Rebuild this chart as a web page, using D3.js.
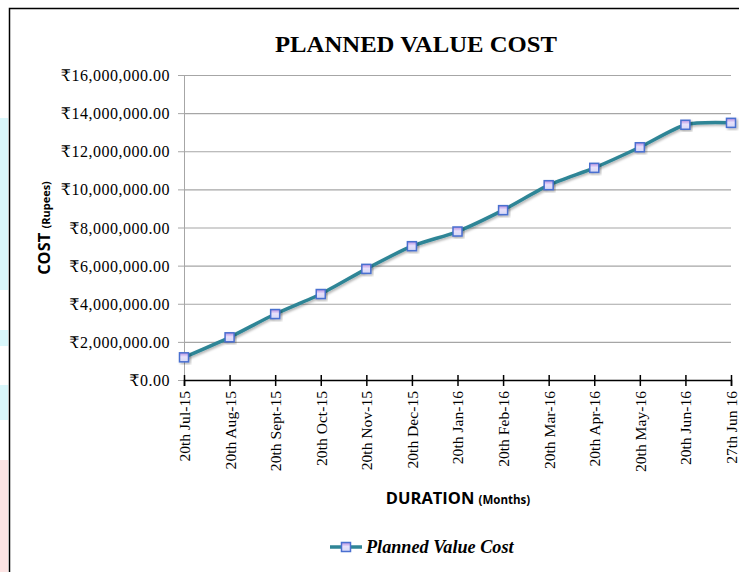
<!DOCTYPE html>
<html><head><meta charset="utf-8">
<script src="https://cdn.jsdelivr.net/npm/d3@7"></script>
<style>body{margin:0;background:#fff}svg{display:block}</style>
</head><body>
<svg id="c" width="739" height="572"></svg>
<script>
const categories = ["20th Jul-15","20th Aug-15","20th Sept-15","20th Oct-15","20th Nov-15","20th Dec-15","20th Jan-16","20th Feb-16","20th Mar-16","20th Apr-16","20th May-16","20th Jun-16","27th Jun 16"];
const plannedValueCost = [1190000,2240000,3460000,4510000,5830000,7020000,7790000,8910000,10220000,11130000,12210000,13390000,13490000];
const yTicks = [0,2000000,4000000,6000000,8000000,10000000,12000000,14000000,16000000];
const seriesName = "Planned Value Cost";

const svg = d3.select("#c");
const serif = "'Liberation Serif','DejaVu Serif',serif";
const sans = "'Open Sans','Noto Sans','DejaVu Sans',sans-serif";

// background patches outside frame
svg.append("rect").attr("x",0).attr("y",118).attr("width",8).attr("height",172).attr("fill","#d9f7fb");
svg.append("rect").attr("x",0).attr("y",330).attr("width",8).attr("height",16).attr("fill","#d9f7fb");
svg.append("rect").attr("x",0).attr("y",385).attr("width",8).attr("height",35).attr("fill","#d9f7fb");
svg.append("rect").attr("x",0).attr("y",460).attr("width",8).attr("height",112).attr("fill","#fde4e4");
// frame
svg.append("path").attr("d","M9.5,572 V8.5 H739").attr("fill","none").attr("stroke","#000").attr("stroke-width",1.5);

const x0 = 184, x1 = 731, yTop = 75, yBot = 380;
const x = d3.scalePoint().domain(categories).range([x0,x1]);
const y = d3.scaleLinear().domain([0,16000000]).range([yBot,yTop]);

// title
svg.append("text").attr("x",416).attr("y",52).attr("text-anchor","middle")
  .attr("font-family",serif).attr("font-weight","bold").attr("font-size",24)
  .attr("textLength",282).attr("lengthAdjust","spacingAndGlyphs")
  .text("PLANNED VALUE COST");

// gridlines
svg.append("g").selectAll("line").data(yTicks.filter(d=>d>0)).join("line")
  .attr("x1",x0).attr("x2",x1).attr("y1",d=>y(d)+0.5).attr("y2",d=>y(d)+0.5)
  .attr("stroke","#a6a6a6").attr("stroke-width",1.2);

// y axis
const fmt = d=>"₹"+d3.format(",.2f")(d);
const ya = svg.append("g").attr("transform",`translate(${x0},0)`)
  .call(d3.axisLeft(y).tickValues(yTicks).tickFormat(fmt).tickSize(6).tickPadding(8));
ya.select(".domain").attr("stroke","#a6a6a6");
ya.selectAll(".tick line").attr("stroke","#a6a6a6");
ya.selectAll(".tick text").attr("font-family",serif).attr("font-size",16).attr("letter-spacing",0.5)
  .attr("fill","#000").attr("dy","0.35em");

// x axis
const xa = svg.append("g").attr("transform",`translate(0,${yBot})`)
  .call(d3.axisBottom(x).tickSize(6).tickPadding(6));
xa.select(".domain").attr("stroke","#000").attr("stroke-width",1.5);
xa.selectAll(".tick line").attr("y1",-5).attr("y2",6).attr("stroke","#000").attr("stroke-width",1.5);
xa.selectAll(".tick text").attr("font-family",serif).attr("font-size",15.6).attr("fill","#000")
  .attr("transform","rotate(-90)").attr("text-anchor","end").attr("x",-11).attr("y",0).attr("dy","0.35em");

// axis titles
const yt = svg.append("text").attr("transform","translate(50,228) rotate(-90)").attr("text-anchor","middle")
  .attr("font-family",sans).attr("font-weight","bold").attr("fill","#000");
yt.append("tspan").attr("font-size",16.4).text("COST ");
yt.append("tspan").attr("font-size",11).text("(Rupees)");
const xt = svg.append("text").attr("x",458).attr("y",504).attr("text-anchor","middle")
  .attr("font-family",sans).attr("font-weight","bold").attr("fill","#000");
xt.append("tspan").attr("font-size",16.5).text("DURATION ");
xt.append("tspan").attr("font-size",11.5).text("(Months)");

// gradient for markers
const defs = svg.append("defs");
const g = defs.append("linearGradient").attr("id","mk").attr("x1",0).attr("y1",0).attr("x2",0).attr("y2",1);
g.append("stop").attr("offset","0%").attr("stop-color","#b48ce0");
g.append("stop").attr("offset","45%").attr("stop-color","#e8e0fb");
g.append("stop").attr("offset","100%").attr("stop-color","#d4d8f6");
const f = defs.append("filter").attr("id","sh").attr("x","-20%").attr("y","-20%").attr("width","150%").attr("height","150%");
f.append("feDropShadow").attr("dx",1.5).attr("dy",1.5).attr("stdDeviation",1.2).attr("flood-color","#000").attr("flood-opacity",0.3);

// line
const data = categories.map((c,i)=>({c,v:plannedValueCost[i]}));
const line = d3.line().x(d=>x(d.c)).y(d=>y(d.v)).curve(d3.curveCardinal.tension(0.3));
svg.append("path").datum(data).attr("d",line).attr("fill","none")
  .attr("stroke","#2f8596").attr("stroke-width",3.5).attr("filter","url(#sh)");
svg.append("g").selectAll("rect").data(data).join("rect")
  .attr("x",d=>x(d.c)-4.5).attr("y",d=>y(d.v)-4.5).attr("width",9).attr("height",9)
  .attr("fill","url(#mk)").attr("stroke","#4a6fd0").attr("stroke-width",1.5).attr("filter","url(#sh)");

// legend
const lg = svg.append("g");
lg.append("line").attr("x1",330).attr("x2",362).attr("y1",547).attr("y2",547).attr("stroke","#2f8596").attr("stroke-width",3.5);
lg.append("rect").attr("x",341.5).attr("y",542.5).attr("width",9).attr("height",9)
  .attr("fill","url(#mk)").attr("stroke","#4a6fd0").attr("stroke-width",1.5);
lg.append("text").attr("x",366).attr("y",553).attr("font-family",serif).attr("font-weight","bold")
  .attr("font-style","italic").attr("font-size",18.2).attr("fill","#000").text(seriesName);
</script>
</body></html>
